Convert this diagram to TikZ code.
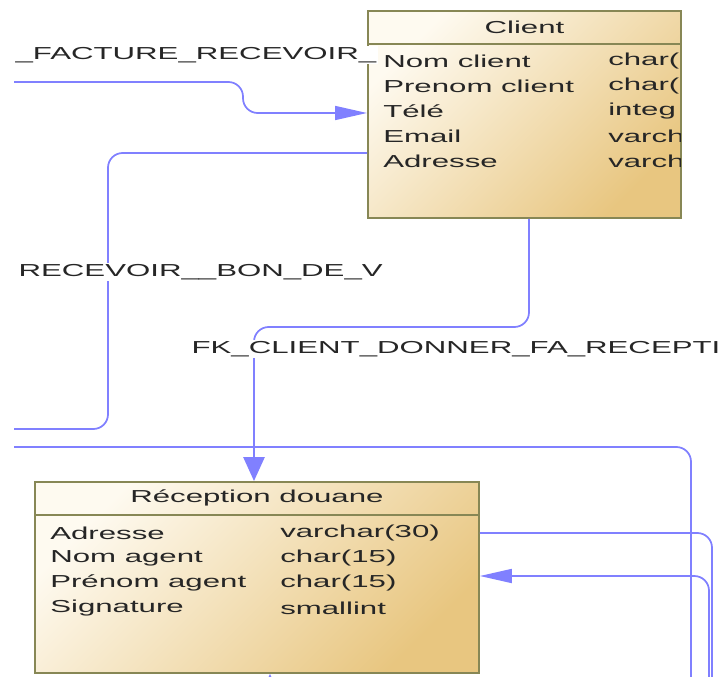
\documentclass[tikz,border=0pt]{standalone}
\usepackage{fontspec}
\setmainfont{Liberation Sans}[FakeStretch=1.8]
\usepackage{tikz}
\usetikzlibrary{arrows.meta, calc, positioning}
\usepackage{xcolor}

\definecolor{fkblue}{RGB}{128,128,255}
\definecolor{tablelight}{RGB}{254,250,240}
\definecolor{tabledark}{RGB}{232,198,128}
\definecolor{tableborder}{RGB}{135,135,85}

\tikzset{
  table/.style={draw=tableborder, line width=1.4pt, top color=tablelight,
    bottom color=tabledark, shading angle=45, anchor=north west, inner sep=0pt},
  tabletitle/.style={font=\fontsize{13}{15}\selectfont, text=black!85, inner sep=0pt},
  attr/.style={font=\fontsize{13}{15}\selectfont, text=black!85, anchor=west, inner sep=0pt},
  link/.style={draw=fkblue, line width=1.3pt, rounded corners=11pt},
  refh/.style={-{Triangle[length=24pt,width=10.5pt]}},
  refv/.style={-{Triangle[length=18pt,width=16pt]}},
  fklabel/.style={font=\fontsize{13}{15}\selectfont, text=black!85, fill=white,
    inner sep=1pt, anchor=west}
}

\begin{document}
\begin{tikzpicture}[x=0.75pt, y=-0.75pt]
\useasboundingbox (0,0) rectangle (724,677);
\clip (14,0) rectangle (724,677);

% Tables
\node[table, minimum width=234.75pt, minimum height=155.25pt] (client) at (367,10) {};
\node[table, minimum width=333pt, minimum height=143.25pt] (reception) at (34,481) {};

% Free ends of the references
\coordinate (fa) at (0,82);
\coordinate (fb) at (243,113);
\coordinate (bb) at (108,153);
\coordinate (bc) at (0,429);
\coordinate (dd) at (529,327);
\coordinate (de) at (254,327);
\coordinate (ga) at (0,447);
\coordinate (gb) at (691,447);
\coordinate (gc) at (691,700);
\coordinate (ha) at (712,533);
\coordinate (hb) at (712,700);
\coordinate (ka) at (709,700);
\coordinate (kb) at (709,576);
\coordinate (ma) at (270,700);

% References
\draw[link, refh] (fa) -- (fa -| fb) -- (fb) -- (client.west |- fb);
\draw[link] (client.west |- bb) -- (bb) -- (bb |- bc) -- (bc);
\draw[link, refv] (client.south -| dd) -- (dd) -- (de) -- (reception.north -| de);
\draw[link] (ga) -- (gb) -- (gc);
\draw[link] (reception.east |- ha) -- (ha) -- (hb);
\draw[link, refh] (ka) -- (kb) -- (reception.east |- kb);
\draw[link, refv] (ma) -- (reception.south -| ma);

\node[fklabel] (lbfacture) at (14,55) {\_FACTURE\_RECEVOIR\_};
\node[fklabel] (lbbon) at (17,272) {RECEVOIR\_\_BON\_DE\_V};
\node[fklabel] (lbdonner) at (190,349) {FK\_CLIENT\_DONNER\_FA\_RECEPTI};

% Client
\draw[tableborder, line width=1.4pt] ($(client.north west)+(0,34)$) -- ($(client.north east)+(0,34)$);
\node[tabletitle] (clienttitle) at ($(client.north)+(0,17)$) {Client};
\begin{scope}
\clip (client.north west) rectangle ([xshift=-0.7pt]client.south east);
\foreach \attname/\atttype [count=\i] in {Nom client/char(, Prenom client/char(,
    Télé/integ, Email/varch, Adresse/varch} {
  \node[attr] (cn\i) at (383,36+25*\i) {\attname};
  \node[attr] (ct\i) at (608,36+25*\i) {\atttype};
}
\end{scope}

% Reception douane
\draw[tableborder, line width=1.4pt] ($(reception.north west)+(0,34)$) -- ($(reception.north east)+(0,34)$);
\node[tabletitle] (receptiontitle) at ($(reception.north)+(0,17)$) {Réception douane};
\foreach \attname/\atttype [count=\i] in {Adresse/varchar(30), Nom agent/char(15),
    Prénom agent/char(15), Signature/smallint} {
  \node[attr] (rn\i) at (50,508+25*\i) {\attname};
  \node[attr] (rt\i) at (280,508+25*\i) {\atttype};
}
\end{tikzpicture}
\end{document}
